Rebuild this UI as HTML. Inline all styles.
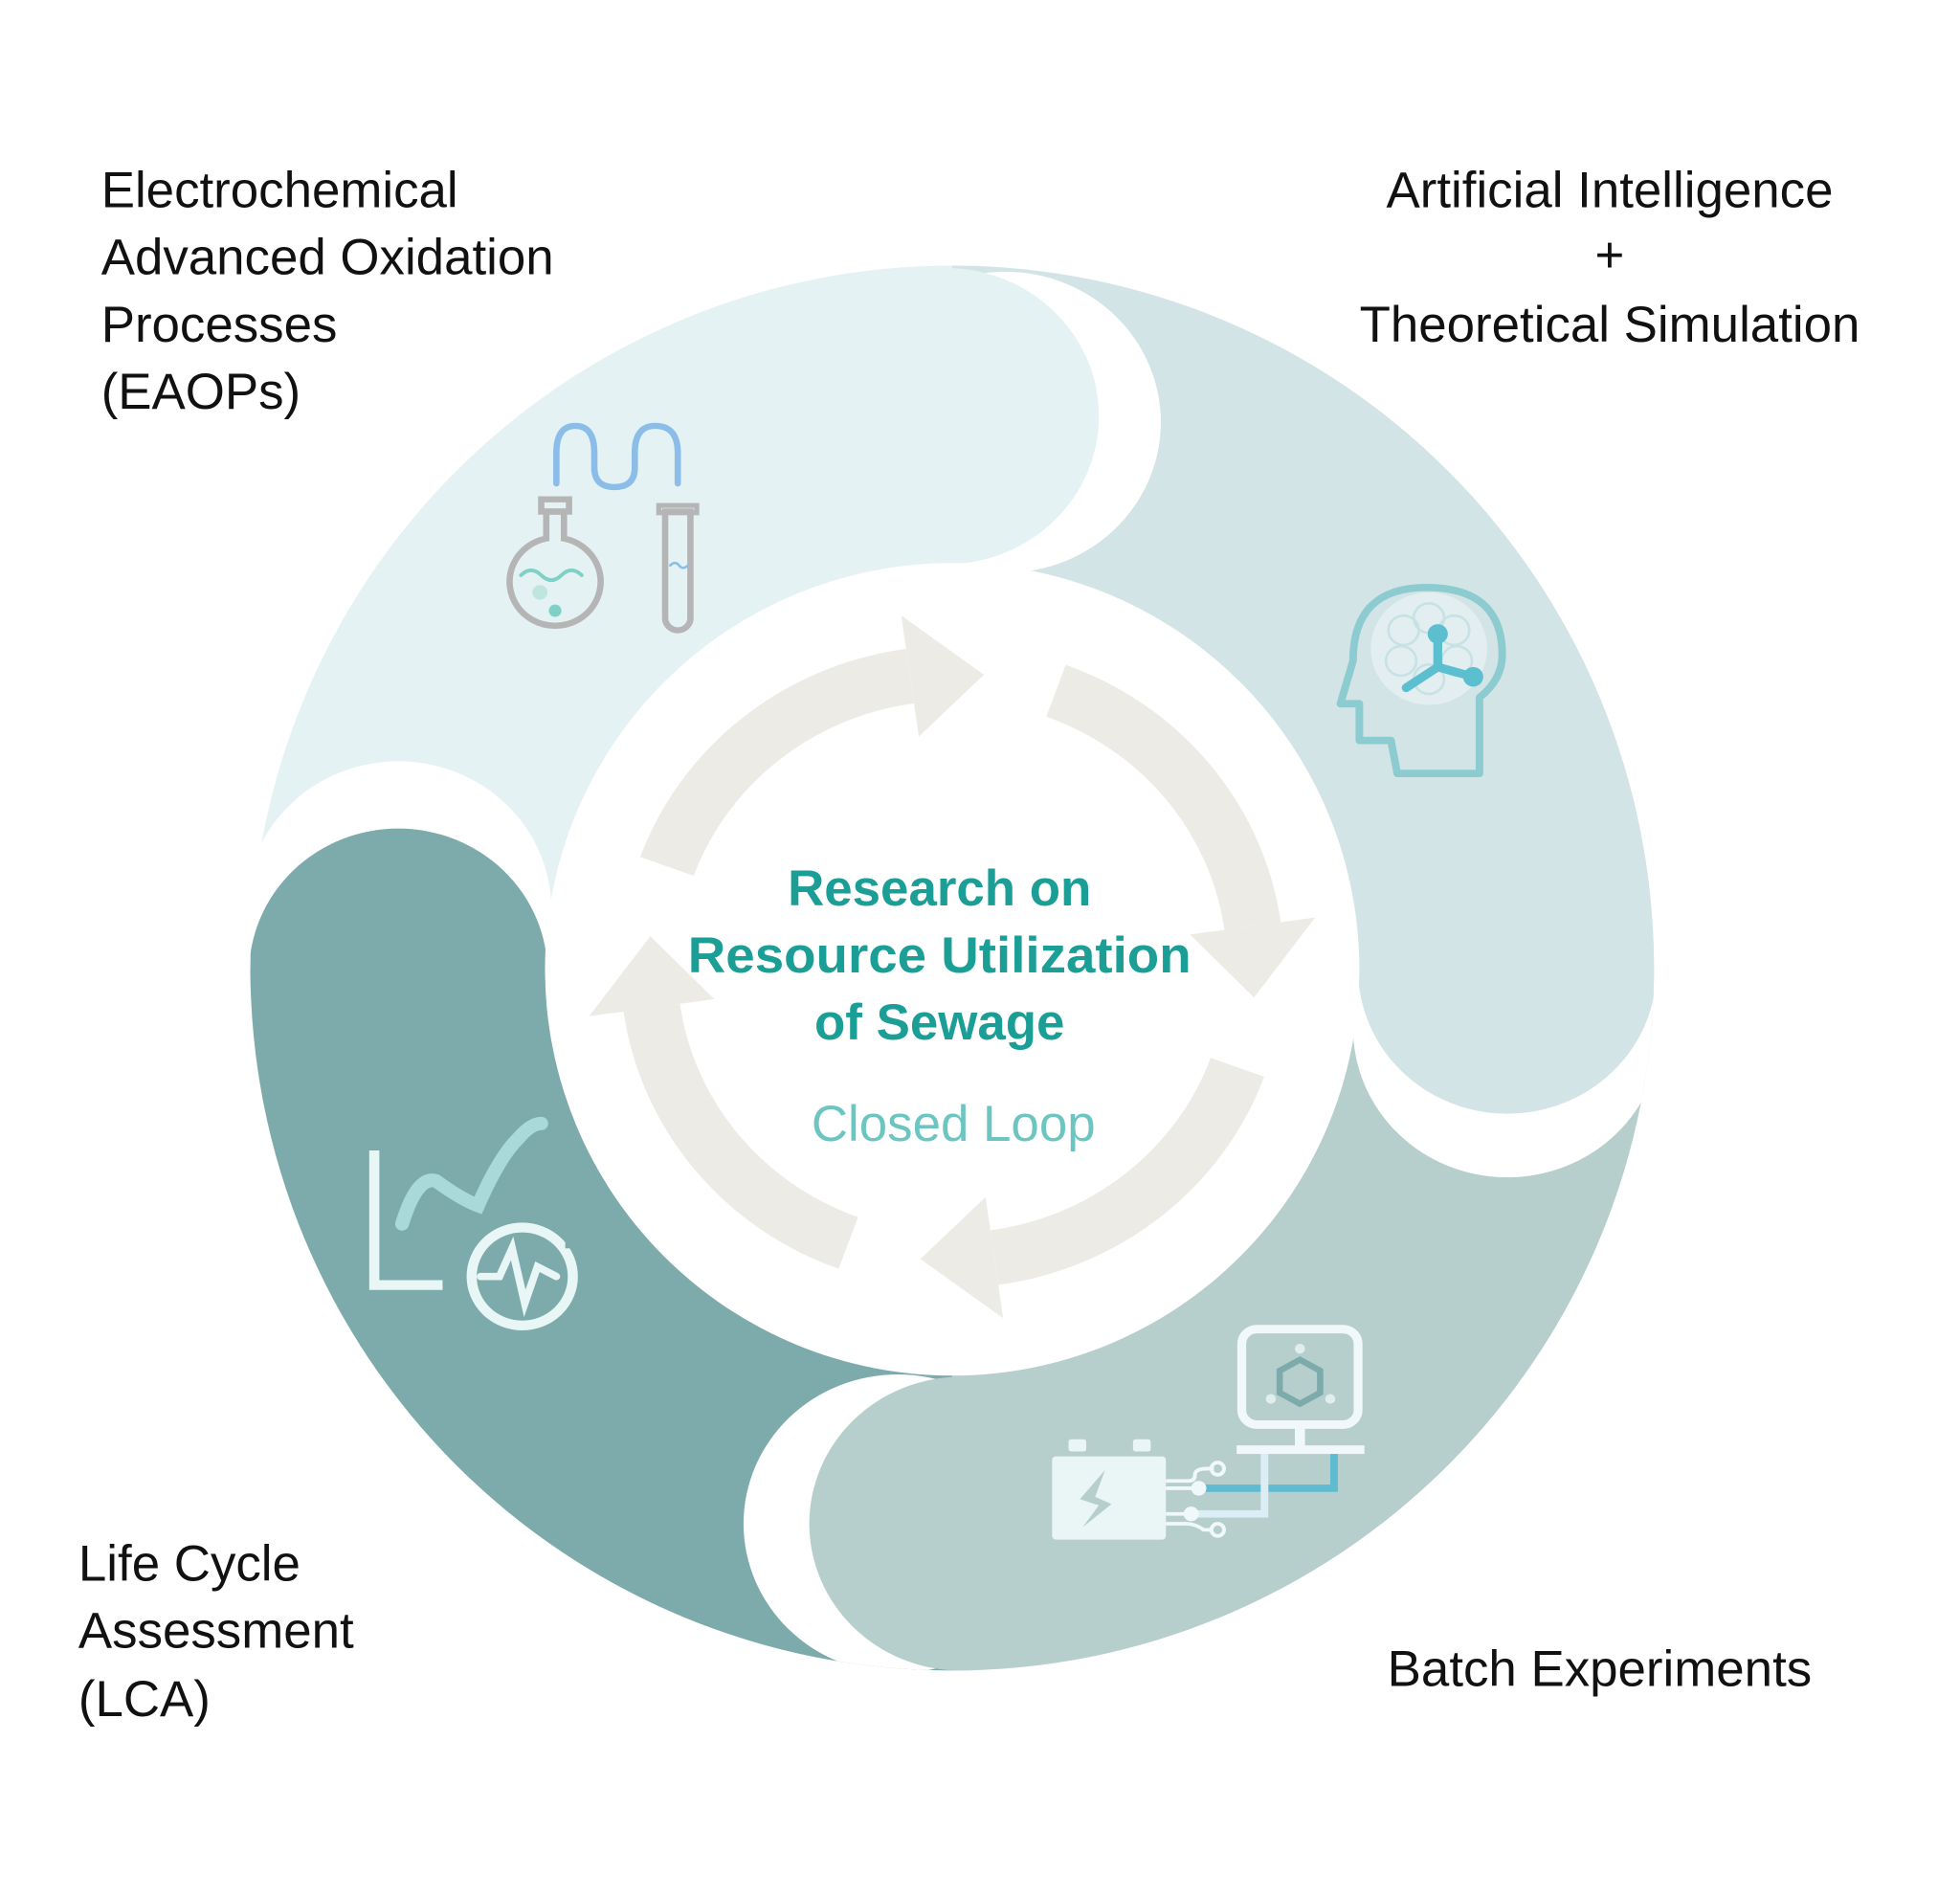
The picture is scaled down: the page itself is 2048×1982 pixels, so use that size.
<!DOCTYPE html>
<html><head><meta charset="utf-8"><style>
html,body{margin:0;padding:0;background:#fff;width:2048px;height:1982px;overflow:hidden;}
svg{display:block;}
text{font-family:"Liberation Sans",Arial,sans-serif;}
</style></head><body>
<svg width="2048" height="1982" viewBox="0 0 1550 1500" preserveAspectRatio="none" xmlns="http://www.w3.org/2000/svg">
<defs>
<clipPath id="ann"><ellipse cx="753" cy="791" rx="555" ry="574"/></clipPath>
</defs>
<rect width="1550" height="1500" fill="#fff"/>
<g transform="scale(1,0.96774)">
<g clip-path="url(#ann)">
  <rect x="0" y="0" width="753" height="791" fill="#e4f2f3"/>
  <rect x="753" y="0" width="800" height="791" fill="#d3e4e6"/>
  <rect x="753" y="791" width="800" height="800" fill="#b6cfcc"/>
  <rect x="0" y="791" width="753" height="800" fill="#7dabab"/>
  <circle cx="795" cy="345" r="123" fill="#fff"/>
  <circle cx="748" cy="340" r="121" fill="#e4f2f3"/>
  <circle cx="1192" cy="840" r="122" fill="#fff"/>
  <circle cx="1192" cy="792" r="118" fill="#d3e4e6"/>
  <circle cx="710" cy="1245" r="122" fill="#fff"/>
  <circle cx="760" cy="1245" r="120" fill="#b6cfcc"/>
  <circle cx="315" cy="743" r="121" fill="#fff"/>
  <circle cx="315" cy="795" r="118" fill="#7dabab"/>
</g>
<ellipse cx="753" cy="792" rx="322" ry="332" fill="#fff"/>

<g fill="#ecebe6" stroke="none">
  <g id="arr">
    <path d="M527.4 707.9 A240 240 0 0 1 719.6 552.4" fill="none" stroke="#ecebe6" stroke-width="45"/>
    <polygon points="726.6,601.9 712.7,502.9 778.1,551.3"/>
  </g>
  <use href="#arr" transform="rotate(90 753 790)"/>
  <use href="#arr" transform="rotate(180 753 790)"/>
  <use href="#arr" transform="rotate(270 753 790)"/>
</g>

<g fill="none" stroke-linecap="round">
  <path d="M440 395 V370 Q440 348 455 348 Q470 348 470 370 V382 Q470 398 486 398 Q502 398 502 382 V370 Q502 348 518 348 Q536 348 536 370 V395" stroke="#8bbde8" stroke-width="5"/>
  <path d="M432 418 V440 A36 36 0 1 0 446 440 V418 Z" stroke="#b5b5b5" stroke-width="5"/>
  <rect x="428" y="408" width="22" height="10" stroke="#b5b5b5" stroke-width="5"/>
  <path d="M412 470 Q420 462 428 470 T444 470 T460 470" stroke="#7fd0c6" stroke-width="3"/>
  <path d="M526 418 V505 A10 10 0 0 0 546 505 V418 Z" stroke="#b5b5b5" stroke-width="5"/>
  <rect x="521" y="413" width="30" height="6" stroke="#b5b5b5" stroke-width="4"/>
  <path d="M530 462 Q534 458 537 462 T544 462" stroke="#8bbde8" stroke-width="2"/>
</g>
<circle cx="427" cy="484" r="6" fill="#bfe5df"/>
<circle cx="439" cy="499" r="5" fill="#7fd0c6"/>

<g fill="none" stroke="#8ccbd0" stroke-width="6" stroke-linejoin="round">
  <path d="M1105 632 H1170 V570 Q1188 555 1188 535 Q1188 480 1128 480 Q1070 480 1070 540 L1060 575 H1075 V605 H1100 Z"/>
</g>
<circle cx="1130" cy="530" r="46" fill="#e2eef0"/>
<g fill="none" stroke="#c7e2e5" stroke-width="2">
  <circle cx="1110" cy="515" r="12"/><circle cx="1130" cy="505" r="12"/><circle cx="1150" cy="515" r="12"/>
  <circle cx="1108" cy="540" r="12"/><circle cx="1152" cy="540" r="12"/><circle cx="1130" cy="555" r="12"/>
</g>
<g stroke="#5bbfcf" stroke-width="7" stroke-linecap="round">
  <line x1="1137" y1="520" x2="1137" y2="545"/>
  <line x1="1137" y1="545" x2="1112" y2="562"/>
  <line x1="1137" y1="545" x2="1165" y2="553"/>
</g>
<circle cx="1137" cy="518" r="8" fill="#5bbfcf"/><circle cx="1165" cy="553" r="8" fill="#5bbfcf"/>

<g fill="none" stroke="#e9f6f6" stroke-width="8" stroke-linecap="round">
  <path d="M296 940 V1050 H350" stroke-linecap="butt"/>
  <circle cx="413" cy="1043" r="40"/>
  <path d="M380 1043 H395 L405 1020 L415 1065 L425 1035 L440 1043" stroke-width="6"/>
  <path d="M318 1000 Q330 960 345 965 Q365 980 378 985 Q395 945 410 930 Q420 918 428 918" stroke="#a9d9d9" stroke-width="11"/>
</g>
<rect x="447" y="995" width="10" height="25" fill="#7dabab"/>

<g>
  <rect x="832" y="1190" width="90" height="68" rx="3" fill="#eaf5f6"/>
  <rect x="845" y="1176" width="14" height="10" rx="2" fill="#eaf5f6"/>
  <rect x="896" y="1176" width="14" height="10" rx="2" fill="#eaf5f6"/>
  <polygon points="874,1201 854,1225 869,1230 856,1248 879,1229 866,1223" fill="#b6cfcc"/>
  <rect x="982" y="1086" width="92" height="78" rx="12" fill="none" stroke="#f1f8f9" stroke-width="7"/>
  <rect x="1024" y="1166" width="8" height="16" fill="#f1f8f9"/>
  <rect x="978" y="1181" width="101" height="7" fill="#f1f8f9"/>
  <polygon points="1028,1111 1044,1120 1044,1138 1028,1147 1012,1138 1012,1120" fill="none" stroke="#7dabab" stroke-width="5"/>
  <circle cx="1028" cy="1102" r="4" fill="#e2eeee"/><circle cx="1005" cy="1143" r="4" fill="#e2eeee"/><circle cx="1052" cy="1143" r="4" fill="#e2eeee"/>
  <path d="M946 1216 H1055 V1188" fill="none" stroke="#5ebbd0" stroke-width="6"/>
  <path d="M940 1237 H1000 V1188" fill="none" stroke="#dceef5" stroke-width="6"/>
  <g fill="none" stroke="#f1f8f9" stroke-width="3">
    <path d="M922 1210 H940 Q945 1210 945 1205 Q945 1200 955 1200 H960"/>
    <path d="M922 1216 H946"/>
    <path d="M922 1237 H940"/>
    <path d="M922 1245 H938 Q945 1245 952 1250 H958"/>
    <circle cx="963" cy="1200" r="5"/><circle cx="963" cy="1250" r="5"/>
  </g>
  <circle cx="948" cy="1216" r="6" fill="#f1f8f9"/><circle cx="942" cy="1237" r="6" fill="#f1f8f9"/>
</g>
</g>

<g fill="#1a9e96" font-weight="bold" font-size="40" text-anchor="middle">
  <text x="743" y="716">Research on</text>
  <text x="743" y="769" textLength="398" lengthAdjust="spacingAndGlyphs">Resource Utilization</text>
  <text x="743" y="822">of Sewage</text>
</g>
<text x="754" y="902" fill="#6cc5c0" font-size="40" text-anchor="middle">Closed Loop</text>

<g fill="#111" font-size="40">
  <text x="80" y="164">Electrochemical</text>
  <text x="80" y="217">Advanced Oxidation</text>
  <text x="80" y="270">Processes</text>
  <text x="80" y="323">(EAOPs)</text>
  <text x="1273" y="164" text-anchor="middle">Artificial Intelligence</text>
  <text x="1273" y="215" text-anchor="middle">+</text>
  <text x="1273" y="270" text-anchor="middle">Theoretical Simulation</text>
  <text x="62" y="1250">Life Cycle</text>
  <text x="62" y="1303">Assessment</text>
  <text x="62" y="1357">(LCA)</text>
  <text x="1265" y="1333" text-anchor="middle">Batch Experiments</text>
</g>
</svg>
</body></html>
